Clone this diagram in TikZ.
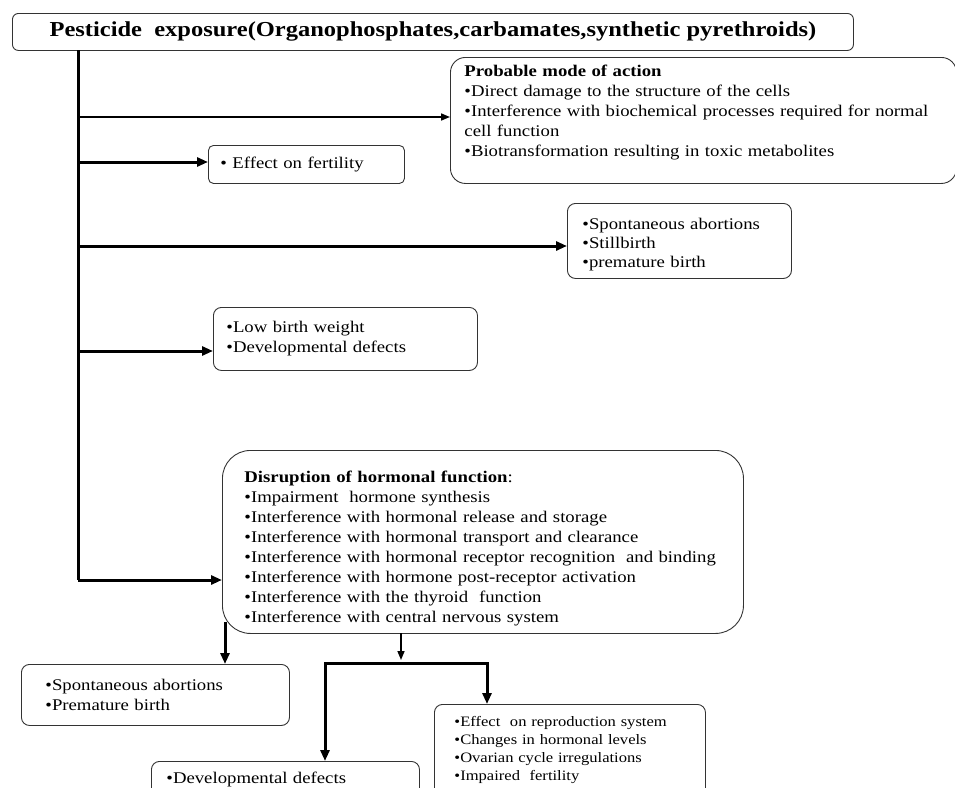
\documentclass[tikz,border=0pt]{standalone}
\usepackage{fontspec}
\setmainfont[FakeStretch=1.15]{Liberation Serif}
\usetikzlibrary{positioning,arrows.meta}

\tikzset{
	box/.style={draw=black!80, line width=0.9pt, rounded corners=#1, anchor=north west, align=left, inner ysep=0pt},
	box/.default=8pt,
	txt/.style={font={\fontsize{16.3}{#1}\selectfont}},
	txt/.default=20,
	link/.style={line width=3pt, -{Triangle[length=11pt,width=9pt]}},
	thin link/.style={line width=1.6pt, -{Triangle[length=9pt,width=7pt]}},
	bar/.style={line width=3pt},
}

\begin{document}
\begin{tikzpicture}[x=1pt,y=-1pt]
	\useasboundingbox (0,0) rectangle (955,787);

	\node[box=6pt, align=center, minimum width=841pt, minimum height=37pt, font={\fontsize{21.3}{24}\selectfont\bfseries}]	(exp)	at	(12,13)
		{Pesticide~ exposure(Organophosphates,carbamates,synthetic pyrethroids)};
	\node[box=15pt, txt, minimum width=506pt, minimum height=126pt, text width=478pt, inner xsep=14pt]	(pmoa)	at	(450,57)
		{\rule{0pt}{18pt}\textbf{Probable mode of action}\\
		 •Direct damage to the structure of the cells\\
		 •Interference with biochemical processes required for normal\\ cell function\\
		 •Biotransformation resulting in toxic metabolites\\ \strut};
	\node[box=5pt, txt, minimum width=194pt, minimum height=38pt, text width=172pt, inner xsep=12pt]	(fert)	at	(208,145)
		{• Effect on fertility};
	\node[box, txt=19, minimum width=222pt, minimum height=75pt, text width=194pt, inner xsep=15pt]	(sab)	at	(567,203)
		{\rule{0pt}{18pt}•Spontaneous abortions\\ •Stillbirth\\ •premature birth};
	\node[box, txt, minimum width=262pt, minimum height=63pt, text width=238pt, inner xsep=13pt]	(lbw)	at	(213,307)
		{•Low birth weight\\ •Developmental defects};
	\node[box=28pt, txt, minimum width=521pt, minimum height=183pt, text width=477pt, inner xsep=22pt]	(horm)	at	(222,450)
		{\rule{0pt}{24pt}\textbf{Disruption of hormonal function}:\\
		 •Impairment~ hormone synthesis\\
		 •Interference with hormonal release and storage\\
		 •Interference with hormonal transport and clearance\\
		 •Interference with hormonal receptor recognition~ and binding\\
		 •Interference with hormone post-receptor activation\\
		 •Interference with the thyroid~ function\\
		 •Interference with central nervous system};
	\node[box, txt, minimum width=268pt, minimum height=61pt, text width=220pt, inner xsep=24pt]	(sap)	at	(21,664)
		{•Spontaneous abortions\\ •Premature birth};
	\node[box, txt, minimum width=268pt, minimum height=36pt, text width=238pt, inner xsep=15pt]	(dev)	at	(151,761)
		{•Developmental defects};
	\node[box, minimum width=271pt, minimum height=92pt, text width=231pt, inner xsep=20pt, font={\fontsize{14.4}{18}\selectfont}]	(repr)	at	(434,704)
		{•Effect~ on reproduction system\\ •Changes in hormonal levels\\ •Ovarian cycle irregulations\\ •Impaired~ fertility};

	% trunk and branches
	\coordinate	(top)	at	(78,50);
	\coordinate	(b1)	at	(78,117);
	\coordinate	(b2)	at	(78,162);
	\coordinate	(b3)	at	(78,246);
	\coordinate	(b4)	at	(78,351);
	\coordinate	(b5)	at	(78,580);
	\draw[bar]	(top)	--	(b5);
	\draw[thin link]	(b1)	--	(b1 -| pmoa.west);
	\draw[link]	(b2)	--	(b2 -| fert.west);
	\draw[link]	(b3)	--	(b3 -| sab.west);
	\draw[link]	(b4)	--	(b4 -| lbw.west);
	\draw[link]	(b5)	--	(b5 -| horm.west);

	% below the hormonal box
	\coordinate	(h1)	at	(225,622);
	\coordinate	(h2)	at	(401,633);
	\coordinate	(s1)	at	(325,663);
	\coordinate	(s2)	at	(487,663);
	\draw[link]	(h1)	--	(h1 |- sap.north);
	\draw[thin link]	(h2)	--	(401,660);
	\draw[link, {Triangle[length=11pt,width=9pt]}-{Triangle[length=11pt,width=9pt]}]	(s1 |- dev.north)	--	(s1)	--	(s2)	--	(s2 |- repr.north);
\end{tikzpicture}
\end{document}
